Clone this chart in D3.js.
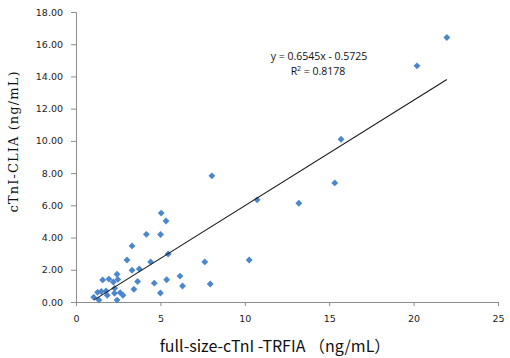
<!DOCTYPE html>
<html><head><meta charset="utf-8">
<script src="https://cdn.jsdelivr.net/npm/d3@7"></script>
<style>html,body{margin:0;padding:0;background:#fff;}svg{display:block;}</style>
</head><body>
<svg id="c" width="510" height="358"></svg>
<script>
// Data
const xValues = [1.05,1.28,1.36,1.5,1.58,1.78,1.85,1.95,2.21,2.29,2.43,2.48,2.28,2.43,2.62,2.78,3.02,3.32,3.32,3.43,3.65,3.75,4.17,4.42,4.64,5.05,5.01,5.33,5.0,5.37,5.46,6.16,6.31,7.63,7.95,8.05,10.26,10.73,13.2,15.33,15.7,20.2,21.97];
const yValues = [0.3,0.6,0.12,0.65,1.37,0.68,0.42,1.42,1.24,0.85,1.72,1.4,0.54,0.12,0.58,0.42,2.61,3.48,1.97,0.79,1.27,2.05,4.2,2.49,1.17,5.52,4.19,5.03,0.56,1.38,2.98,1.61,0.99,2.49,1.12,7.83,2.61,6.34,6.13,7.39,10.1,14.66,16.42];
const slope = 0.6545, intercept = -0.5725;
const equationLabel = "y = 0.6545x - 0.5725";
const r2Label = "0.8178";
const xTicks = [0,5,10,15,20,25];
const yTicks = [0,2,4,6,8,10,12,14,16,18];
const xTitle = "full-size-cTnI -TRFIA （ng/mL）";
const yTitle = "cTnI-CLIA (ng/mL)";

const svg = d3.select("#c");
const x = d3.scaleLinear().domain([0,25]).range([76,498]);
const y = d3.scaleLinear().domain([0,18]).range([302,12]);
const axisColor = "#8c8c8c";

// Y axis
const ya = svg.append("g").attr("transform","translate(76,0)")
  .call(d3.axisLeft(y).tickValues(yTicks).tickFormat(d3.format(".2f")).tickSizeOuter(0).tickSize(5).tickPadding(8));
ya.select(".domain").attr("stroke",axisColor);
ya.selectAll(".tick line").attr("stroke",axisColor);
ya.selectAll(".tick text").attr("font-family","DejaVu Sans, sans-serif").attr("font-size","9.5px").attr("fill","#222");

// X axis
const xa = svg.append("g").attr("transform","translate(0,302)")
  .call(d3.axisBottom(x).tickValues(xTicks).tickFormat(d3.format("d")).tickSizeOuter(0).tickSize(4).tickPadding(9));
xa.select(".domain").attr("stroke",axisColor);
xa.selectAll(".tick line").attr("stroke",axisColor);
xa.selectAll(".tick text").attr("font-family","DejaVu Sans, sans-serif").attr("font-size","9.5px").attr("fill","#222");

// points
const pts = xValues.map((v,i)=>({x:v,y:yValues[i]}));
svg.append("g").selectAll("path").data(pts).join("path")
  .attr("d", d3.symbol().type(d3.symbolDiamond2).size(30))
  .attr("transform", d=>`translate(${x(d.x)},${y(d.y)})`)
  .attr("fill","#4a87cc");

// trend line
const xmin = d3.min(xValues), xmax = d3.max(xValues);
svg.append("line")
  .attr("x1",x(xmin)).attr("y1",y(slope*xmin+intercept))
  .attr("x2",x(xmax)).attr("y2",y(slope*xmax+intercept))
  .attr("stroke","#1a1a1a").attr("stroke-width",1.1);

// equation
svg.append("text").attr("x",319).attr("y",60).attr("text-anchor","middle")
  .attr("font-family","Open Sans, sans-serif").attr("font-size","10.5px").attr("fill","#111")
  .text(equationLabel);
const r2 = svg.append("text").attr("x",318).attr("y",75).attr("text-anchor","middle")
  .attr("font-family","Open Sans, sans-serif").attr("font-size","10.5px").attr("fill","#111");
r2.append("tspan").text("R");
r2.append("tspan").attr("dy",-4).attr("font-size","7px").text("2");
r2.append("tspan").attr("dy",4).text(" = " + r2Label);

// titles
svg.append("text").attr("x",275).attr("y",352).attr("text-anchor","middle")
  .attr("font-family","Noto Sans CJK SC, Noto Sans, sans-serif").attr("font-size","16px").attr("fill","#111")
  .text(xTitle);
svg.append("text").attr("transform","translate(18,142) rotate(-90)").attr("text-anchor","middle")
  .attr("font-family","DejaVu Serif, serif").attr("font-size","13px").attr("fill","#111")
  .attr("textLength",141).attr("lengthAdjust","spacing")
  .text(yTitle);
</script>
</body></html>
